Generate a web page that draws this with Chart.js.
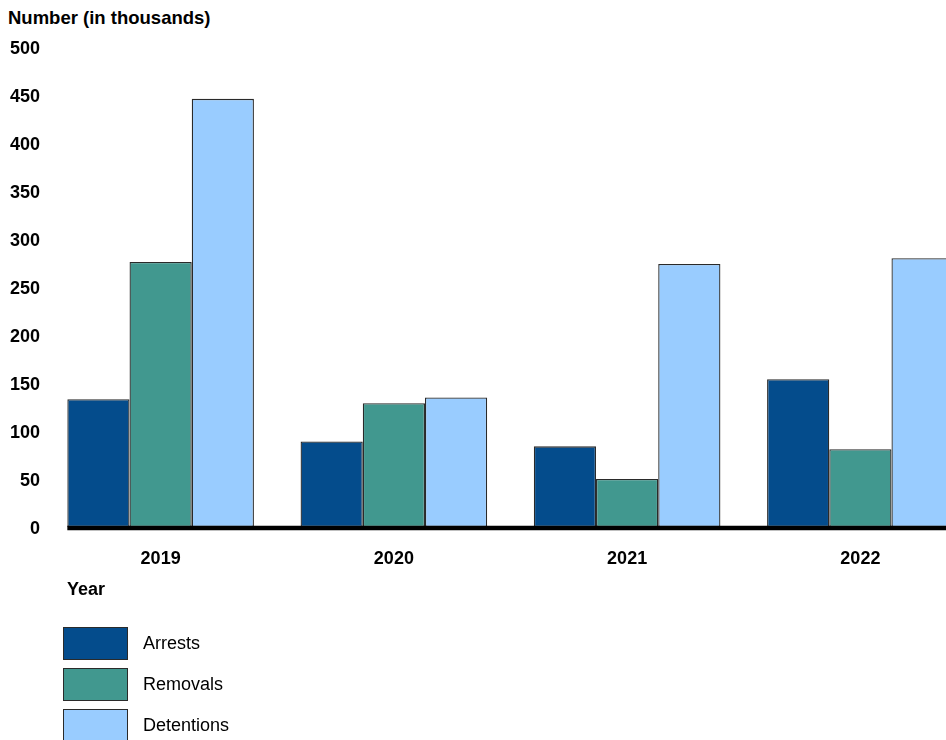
<!DOCTYPE html>
<html>
<head>
<meta charset="utf-8">
<script src="https://cdn.jsdelivr.net/npm/chart.js@4/dist/chart.umd.min.js"></script>
<style>
  html, body { margin: 0; padding: 0; background: #fff; overflow: hidden; }
  body { width: 946px; height: 740px; position: relative; font-family: Arial, "Liberation Sans", sans-serif; color: #000; }
  #chart { position: absolute; left: 0; top: 0; }
  .label { position: absolute; font-size: 18px; line-height: 18px; font-weight: bold; white-space: nowrap; }
  #legend { position: absolute; left: 63px; top: 627px; }
  .item { display: flex; align-items: center; height: 33px; margin-bottom: 8px; }
  .swatch { width: 63px; height: 31px; border: 1px solid #2a2a2a; }
  .item span { margin-left: 15px; font-size: 18px; }
</style>
</head>
<body>
<div class="label" style="left:8px; top:9px; font-size:18.5px">Number (in thousands)</div>
<canvas id="chart" width="980" height="600"></canvas>
<div class="label" style="left:67px; top:580px">Year</div>
<div id="legend"></div>
<script>
const years = ['2019', '2020', '2021', '2022'];
const arrests = [133, 89, 84, 154];
const removals = [276, 129, 50, 81];
const detentions = [446, 135, 274, 280];
const seriesNames = ['Arrests', 'Removals', 'Detentions'];
const seriesColors = ['#044c8c', '#41988f', '#99ccff'];
const yMin = 0, yMax = 500, yStep = 50;

const tickFont = { family: 'Arial, "Liberation Sans", sans-serif', size: 18, weight: 'bold' };

// thick black baseline starting at the first bar
const baseline = {
  id: 'baseline',
  afterDatasetsDraw(chart) {
    const first = chart.getDatasetMeta(0).data[0];
    const x0 = first.x - first.width / 2;
    const y = chart.scales.y.getPixelForValue(0) + 1;
    const ctx = chart.ctx;
    ctx.save();
    ctx.strokeStyle = '#000';
    ctx.lineWidth = 4.5;
    ctx.beginPath();
    ctx.moveTo(x0, y);
    ctx.lineTo(chart.width, y);
    ctx.stroke();
    ctx.restore();
  }
};

const chart = new Chart(document.getElementById('chart'), {
  type: 'bar',
  data: {
    labels: years,
    datasets: [arrests, removals, detentions].map((values, i) => ({
      label: seriesNames[i],
      data: values,
      backgroundColor: seriesColors[i],
      borderColor: '#2a2a2a',
      borderWidth: 1.3,
      borderSkipped: false,
      categoryPercentage: 0.8,
      barPercentage: 1.0
    }))
  },
  options: {
    responsive: false,
    animation: false,
    layout: { padding: { top: 47, right: 3, left: 0, bottom: 0 } },
    plugins: {
      legend: { display: false },
      tooltip: { enabled: false }
    },
    scales: {
      x: {
        grid: { display: false },
        border: { display: false },
        ticks: { font: tickFont, color: '#000', padding: 13 },
        afterFit(scale) { scale.height = 73; }
      },
      y: {
        min: yMin,
        max: yMax,
        grid: { display: false, drawTicks: false },
        border: { display: false },
        ticks: { stepSize: yStep, font: tickFont, color: '#000', padding: 4, labelOffset: 2.5 },
        afterFit(scale) { scale.width = 44; }
      }
    }
  },
  plugins: [baseline]
});

// legend below the chart, built from the datasets
const legend = document.getElementById('legend');
chart.data.datasets.forEach(ds => {
  const item = document.createElement('div');
  item.className = 'item';
  const sw = document.createElement('div');
  sw.className = 'swatch';
  sw.style.background = ds.backgroundColor;
  const txt = document.createElement('span');
  txt.textContent = ds.label;
  item.appendChild(sw);
  item.appendChild(txt);
  legend.appendChild(item);
});
</script>
</body>
</html>
